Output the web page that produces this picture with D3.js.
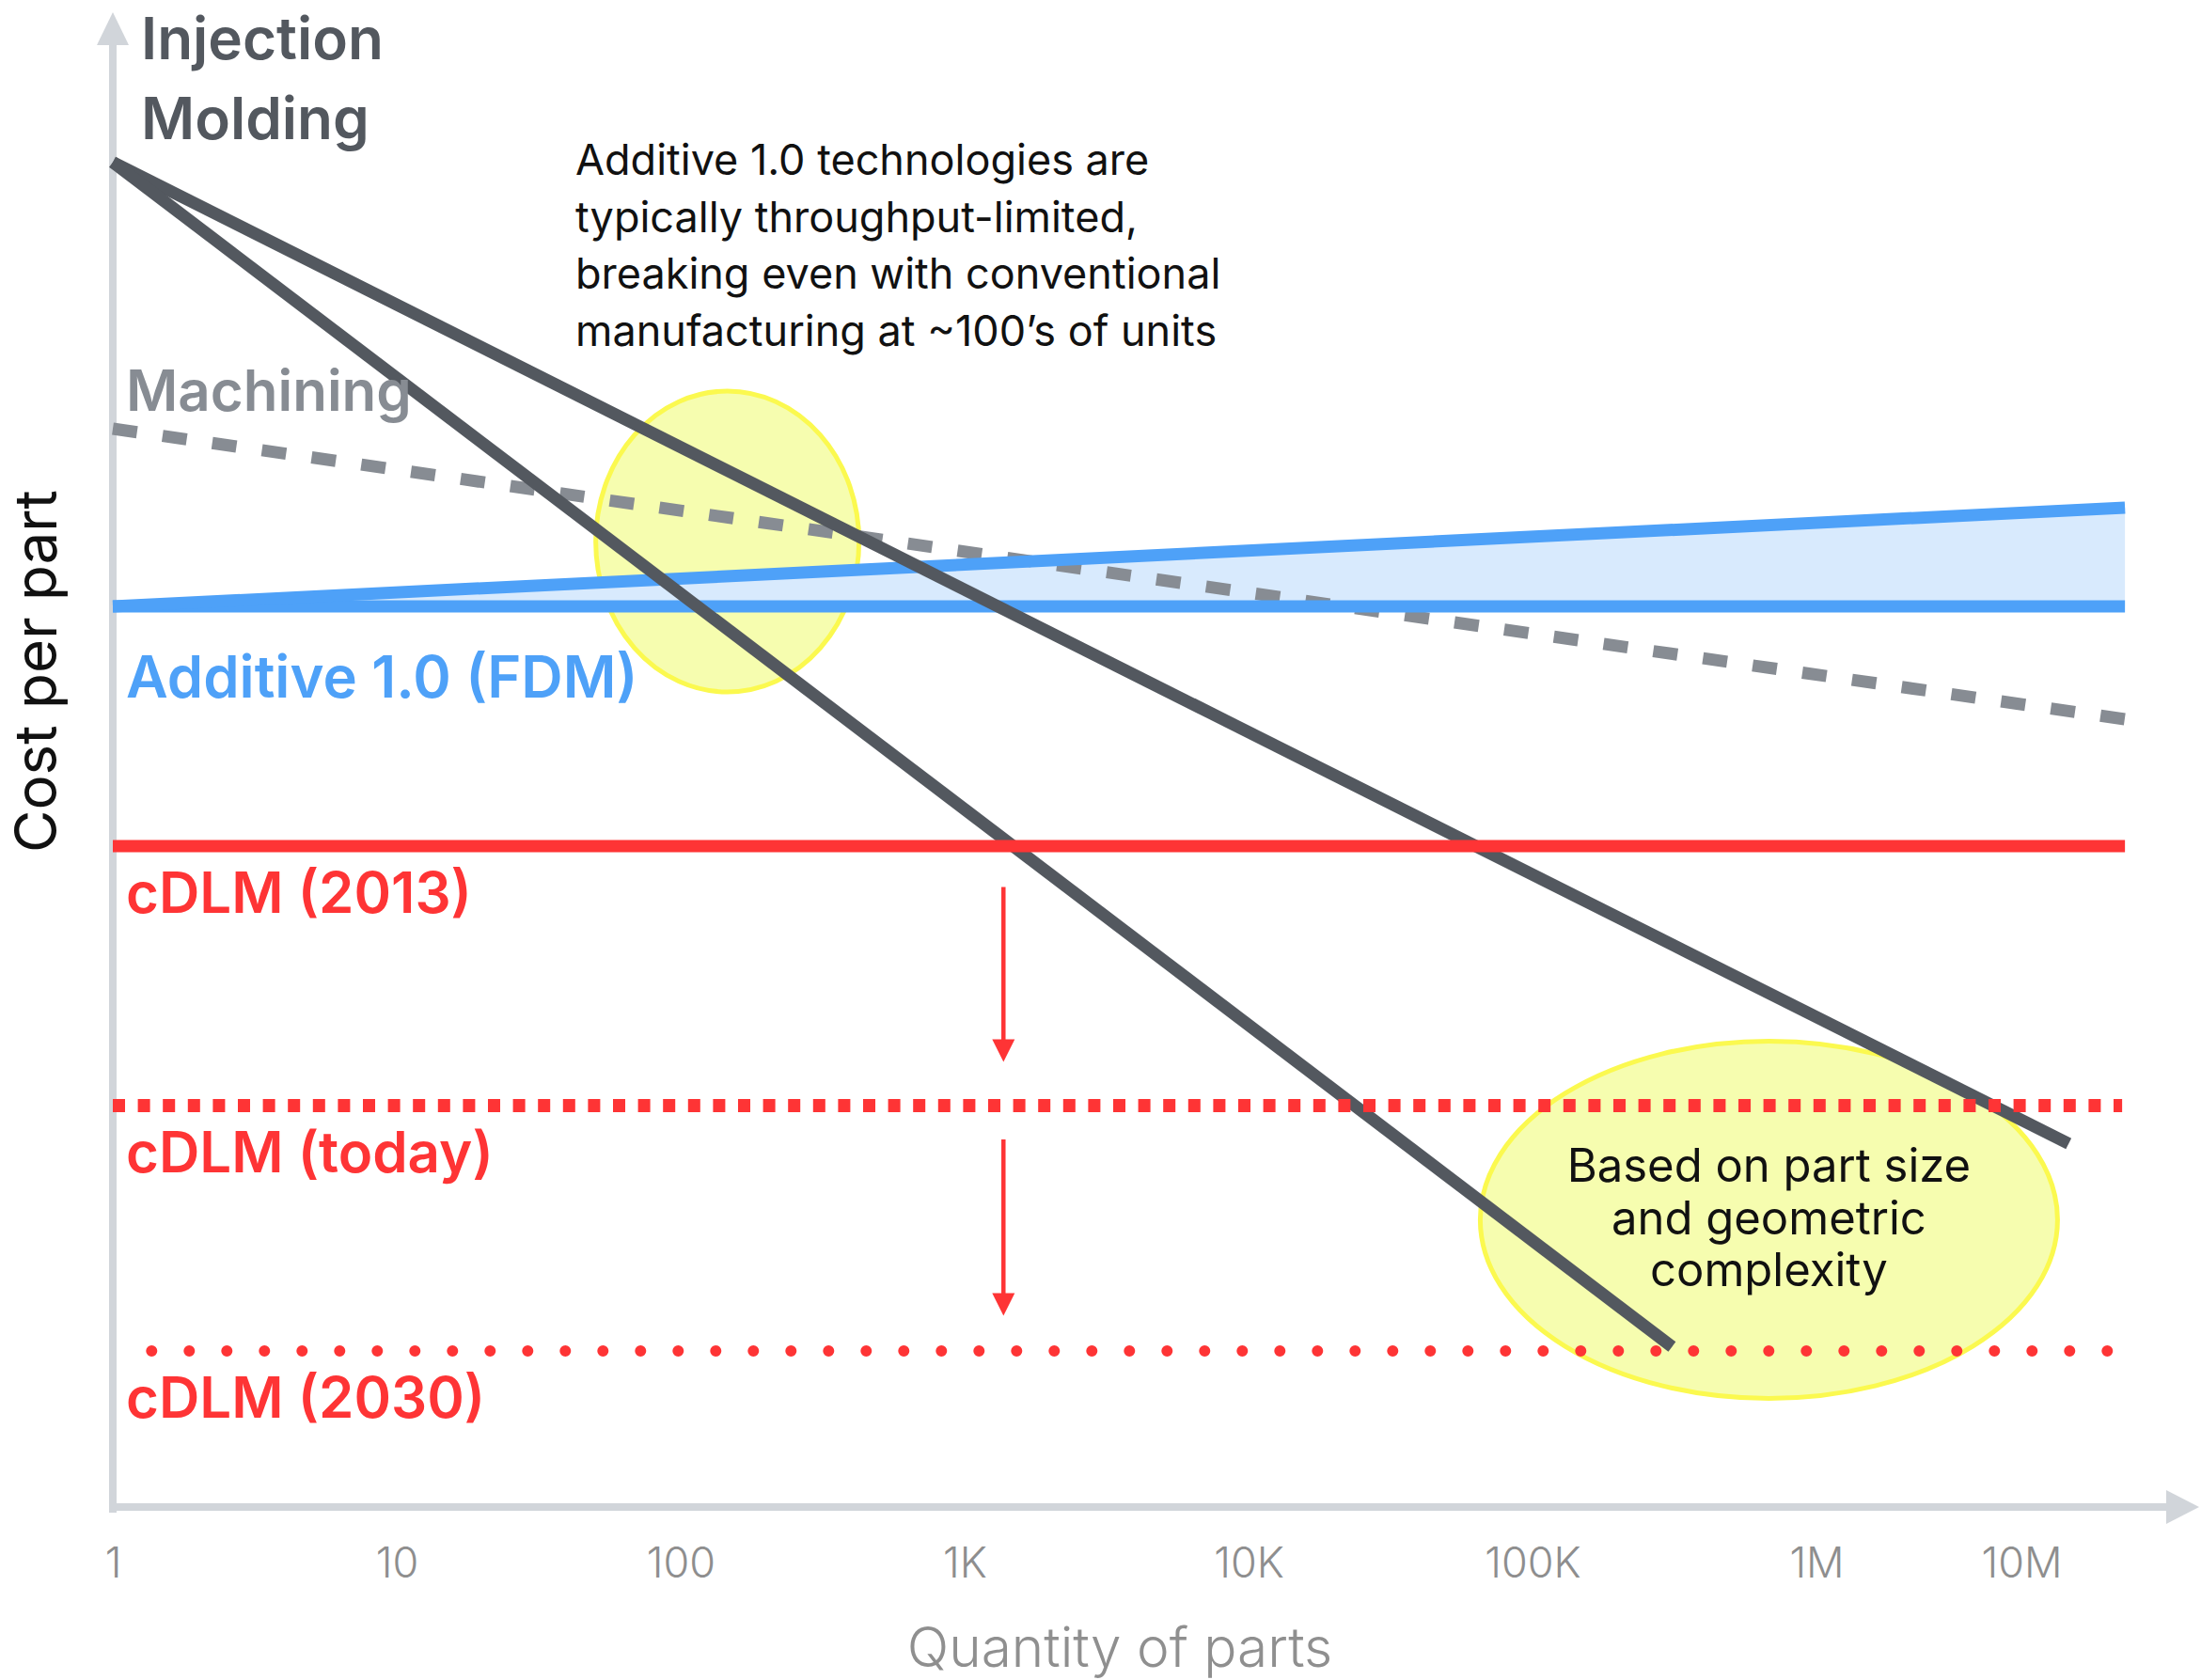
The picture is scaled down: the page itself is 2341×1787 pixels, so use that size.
<!DOCTYPE html>
<html>
<head>
<meta charset="utf-8">
<script src="https://cdn.jsdelivr.net/npm/d3@7"></script>
<style>
  html, body { margin: 0; padding: 0; background: #fff; }
  svg { display: block; }
  text { font-family: Inter, "Noto Sans", sans-serif; }
</style>
</head>
<body>
<svg id="chart" width="2341" height="1787"></svg>
<script>
// ---- Quantity axis ticks ----
const tickValues = [1, 10, 100, 1e3, 1e4, 1e5, 1e6, 1e7];
const tickLabels = ["1", "10", "100", "1K", "10K", "100K", "1M", "10M"];

// ---- Cost-per-part curves: [quantity, relative cost] ----
const injectionHigh  = [[1, 95.5], [1.7e7, 25.9]];
const injectionLow   = [[1, 95.5], [3.1e5, 11.5]];
const machining      = [[1, 76.6], [3.2e7, 56.0]];
const additiveFlat   = [[1, 64.0], [3.2e7, 64.0]];
const additiveRising = [[1, 64.0], [3.2e7, 71.0]];
const cdlm2013       = [[1, 47.0], [3.2e7, 47.0]];
const cdlmToday      = [[1, 28.6], [3.1e7, 28.6]];
const cdlm2030       = [[1.37, 11.2], [2.65e7, 11.2]];

// ---- Cost drops between cDLM generations: [quantity, from cost, to cost] ----
const cdlmSteps = [[1370, 44.1, 31.7], [1370, 26.2, 13.7]];

// ---- Highlighted regions: [quantity, cost] centres ----
const highlights = [[146, 68.6], [6.8e5, 20.5]];

// ---- Text ----
const breakEvenNote = [
  "Additive 1.0 technologies are",
  "typically throughput-limited,",
  "breaking even with conventional",
  "manufacturing at ~100\u2019s of units"
];
const complexityNote = ["Based on part size", "and geometric", "complexity"];

// ---- Styling ----
const C = {
  axis: "#d1d5da",
  dark: "#53585f",
  grey: "#878c93",
  blue: "#4ea1f8",
  blueFill: "#d8eafd",
  red: "#fe3435",
  yellowFill: "#f6fdaf",
  yellowStroke: "#fbf94f",
  tick: "#8e8e8e"
};

const svg = d3.select("#chart");

// Log quantity scale; the last decade is drawn compressed
const x = d3.scaleLog().domain([1, 1e6, 1e7]).range([120, 1932, 2150]);
const y = d3.scaleLinear().domain([0, 100]).range([1605, 105]);

const line = d3.line().x(d => x(d[0])).y(d => y(d[1]));

// ---- Highlight ellipses (beneath everything) ----
const highlightR = [[140, 160], [307, 190]];
svg.append("g").selectAll("ellipse").data(highlights).join("ellipse")
  .attr("cx", d => x(d[0]))
  .attr("cy", d => y(d[1]))
  .attr("rx", (d, i) => highlightR[i][0])
  .attr("ry", (d, i) => highlightR[i][1])
  .attr("fill", C.yellowFill)
  .attr("stroke", C.yellowStroke)
  .attr("stroke-width", 5);

// ---- Axes ----
const x0 = x(1), y0 = y(0);
const axes = svg.append("g");
axes.append("line")
  .attr("x1", x0).attr("x2", x0)
  .attr("y1", y0 + 4).attr("y2", 46)
  .attr("stroke", C.axis).attr("stroke-width", 8);
axes.append("path")
  .attr("d", `M${x0 - 17},48 L${x0},13 L${x0 + 17},48 Z`)
  .attr("fill", C.axis);
axes.append("line")
  .attr("x1", x0 - 4).attr("x2", 2306)
  .attr("y1", y0 - 2).attr("y2", y0 - 2)
  .attr("stroke", C.axis).attr("stroke-width", 8);
axes.append("path")
  .attr("d", `M2304,${y0 - 20} L2339,${y0 - 2} L2304,${y0 + 16} Z`)
  .attr("fill", C.axis);

const xAxis = d3.axisBottom(x)
  .tickValues(tickValues)
  .tickFormat((d, i) => tickLabels[i])
  .tickSize(0);
const gx = svg.append("g").attr("transform", `translate(0,${y0})`).call(xAxis);
gx.select(".domain").remove();
gx.attr("font-family", null).attr("font-size", null);
gx.selectAll("text")
  .attr("y", 73).attr("dy", 0)
  .attr("fill", C.tick)
  .style("font-size", "45px")
  .style("font-weight", 300);

// ---- Additive 1.0 band ----
const band = additiveFlat.map((d, i) => [d[0], d[1], additiveRising[i][1]]);
svg.append("path")
  .datum(band)
  .attr("d", d3.area().x(d => x(d[0])).y0(d => y(d[1])).y1(d => y(d[2])))
  .attr("fill", C.blueFill);

// ---- Machining (dashed) ----
svg.append("path").datum(machining)
  .attr("d", line).attr("fill", "none")
  .attr("stroke", C.grey).attr("stroke-width", 13)
  .attr("stroke-dasharray", "26,27.4");

// ---- Additive 1.0 lines ----
[additiveFlat, additiveRising].forEach(s => {
  svg.append("path").datum(s)
    .attr("d", line).attr("fill", "none")
    .attr("stroke", C.blue).attr("stroke-width", 13);
});

// ---- Injection molding ----
[injectionHigh, injectionLow].forEach(s => {
  svg.append("path").datum(s)
    .attr("d", line).attr("fill", "none")
    .attr("stroke", C.dark).attr("stroke-width", 13);
});

// ---- cDLM levels ----
svg.append("path").datum(cdlm2013)
  .attr("d", line).attr("fill", "none")
  .attr("stroke", C.red).attr("stroke-width", 13);
svg.append("path").datum(cdlmToday)
  .attr("d", line).attr("fill", "none")
  .attr("stroke", C.red).attr("stroke-width", 14)
  .attr("stroke-dasharray", "13,13.6");
svg.append("path").datum(cdlm2030)
  .attr("d", line).attr("fill", "none")
  .attr("stroke", C.red).attr("stroke-width", 12)
  .attr("stroke-linecap", "round")
  .attr("stroke-dasharray", "0,40");

// ---- Step-down arrows ----
const steps = svg.append("g");
cdlmSteps.forEach(([q, from, to]) => {
  const ax = x(q), ya = y(from), yb = y(to);
  steps.append("line")
    .attr("x1", ax).attr("x2", ax)
    .attr("y1", ya).attr("y2", yb - 20)
    .attr("stroke", C.red).attr("stroke-width", 4.5);
  steps.append("path")
    .attr("d", `M${ax - 12},${yb - 24} L${ax},${yb} L${ax + 12},${yb - 24} Z`)
    .attr("fill", C.red);
});

// ---- Series labels ----
const labels = svg.append("g").style("font-weight", 600);
labels.append("text").attr("x", 150).attr("y", 63)
  .attr("fill", C.dark).style("font-size", "62px").text("Injection");
labels.append("text").attr("x", 150).attr("y", 148)
  .attr("fill", C.dark).style("font-size", "62px").text("Molding");
labels.append("text").attr("x", 134).attr("y", y(machining[0][1]) - 19)
  .attr("fill", C.grey).style("font-size", "60px").text("Machining");
labels.append("text").attr("x", 134).attr("y", y(additiveFlat[0][1]) + 97)
  .attr("fill", C.blue).style("font-size", "61.5px").text("Additive 1.0 (FDM)");
[[cdlm2013, "cDLM (2013)"], [cdlmToday, "cDLM (today)"], [cdlm2030, "cDLM (2030)"]]
  .forEach(([s, t]) => {
    labels.append("text").attr("x", 134).attr("y", y(s[0][1]) + 71)
      .attr("fill", C.red).style("font-size", "60px").text(t);
  });

// ---- Notes ----
const note = svg.append("text")
  .attr("x", 612).attr("y", 186)
  .attr("fill", "#111").style("font-size", "45px").style("font-weight", 400);
breakEvenNote.forEach((t, i) => {
  note.append("tspan").attr("x", 612).attr("dy", i ? 60.7 : 0).text(t);
});

const cx2 = x(highlights[1][0]);
const note2 = svg.append("text")
  .attr("x", cx2).attr("y", 1257).attr("text-anchor", "middle")
  .attr("fill", "#111").style("font-size", "49px").style("font-weight", 400);
complexityNote.forEach((t, i) => {
  note2.append("tspan").attr("x", cx2).attr("dy", i ? 55.5 : 0).text(t);
});

// ---- Axis titles ----
svg.append("text")
  .attr("x", 1191).attr("y", 1773).attr("text-anchor", "middle")
  .attr("fill", "#8f8f8f").style("font-size", "58.5px").style("font-weight", 300)
  .text("Quantity of parts");
svg.append("text")
  .attr("transform", "translate(60,714) rotate(-90)")
  .attr("text-anchor", "middle")
  .attr("fill", "#111").style("font-size", "62px").style("font-weight", 400)
  .text("Cost per part");
</script>
</body>
</html>
